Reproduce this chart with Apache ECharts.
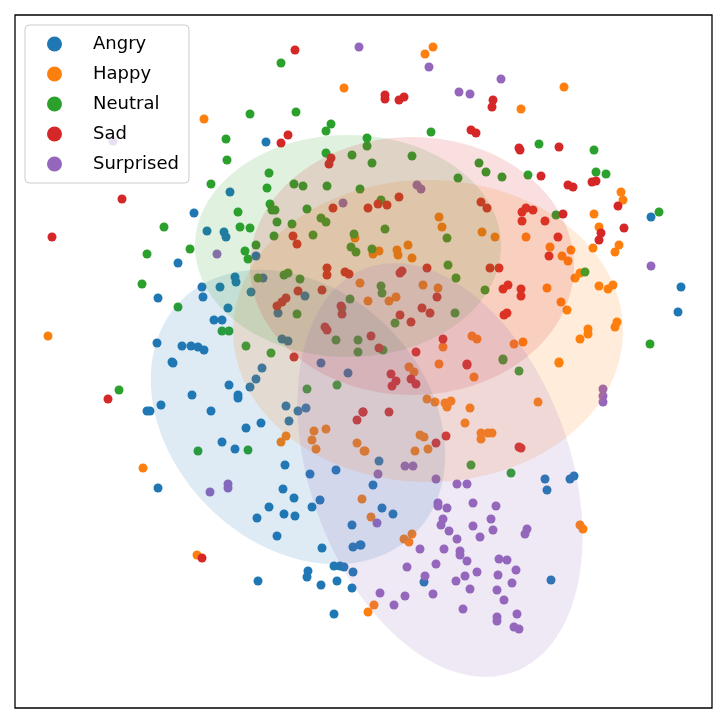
<!DOCTYPE html>
<html><head><meta charset="utf-8">
<script src="https://cdn.jsdelivr.net/npm/echarts@6/dist/echarts.min.js"></script>
<style>html,body{margin:0;padding:0;background:#fff}#c{width:728px;height:723px}</style>
</head><body><div id="c"></div>
<script>
const categories = ['Angry','Happy','Neutral','Sad','Surprised'];
const colors = ['#1f77b4','#ff7f0e','#2ca02c','#d62728','#9467bd'];

const angry = [[266,142],[230,192],[194,213],[207,231],[224,232],[226,237],[178,263],[256,256],[235,277],[236,282],[202,287],[203,297],[220,287],[251,292],[263,278],[158,298],[228,308],[278,313],[305,296],[214,320],[222,320],[157,343],[182,346],[191,346],[198,347],[204,350],[282,339],[288,341],[172,362],
[651,217],[681,287],[678,312],
[173,363],[262,368],[256,379],[250,387],[229,385],[238,395],[238,398],[192,395],[161,405],[147,411],[150,411],[211,411],[286,406],[298,411],[306,408],[289,421],[261,423],[246,428],[222,442],[235,449],[285,465],[310,474],[336,470],[158,488],[283,489],[294,498],[320,500],[312,507],[269,507],[257,518],[284,514],[295,516],[277,536],[352,525],[322,548],[353,547],[360,545],[334,566],[340,566],[344,567],[353,572],[308,571],[307,577],[258,581],[321,585],[337,581],[352,588],[334,614],[321,363],[348,373],
[379,461],[373,485],[382,508],[393,514],[361,545],[545,479],[547,490],[570,479],[574,476],[424,582],[551,580]];

const happy = [[344,88],[204,119],[48,336],[355,238],[360,283],
[425,54],[433,47],[564,87],[521,109],[621,192],[623,200],[594,214],[599,227],[619,245],[615,252],[593,248],[526,237],[550,247],[562,256],[568,261],[571,250],[575,278],[580,273],[599,286],[608,289],[613,285],[547,288],[561,302],[567,310],[617,322],[615,327],[588,329],[588,334],[580,339],[523,342],[514,344],[559,362],[439,217],[442,227],[482,232],[495,237],[408,245],[397,250],[398,255],[412,258],[373,254],[379,251],[423,285],[438,288],[368,301],[389,301],[396,297],[472,336],[477,339],[443,347],
[143,468],[197,555],[281,442],[286,436],[314,431],[326,429],[312,440],[316,449],[357,443],[364,451],[362,499],
[409,367],[414,372],[439,364],[474,377],[559,363],[427,399],[435,402],[445,403],[447,407],[451,401],[470,408],[538,402],[465,423],[420,435],[424,437],[481,433],[481,439],[488,433],[492,433],[415,451],[428,449],[365,451],[371,517],[404,539],[412,534],[409,542],[374,605],[368,612],[580,525],[583,529]];

const neutral = [[281,63],[250,114],[296,112],[331,124],[326,131],[226,139],[227,160],[326,153],[352,155],[269,173],[211,184],[267,188],[294,184],[303,186],[327,186],[360,189],[270,204],[272,210],[275,210],[238,212],[307,209],[277,222],[292,224],[321,218],[326,222],[240,227],[250,228],[164,227],[274,236],[313,235],[354,234],[190,249],[147,254],[256,245],[245,251],[248,259],[351,247],[356,252],[142,284],[284,275],[288,273],[300,279],[258,278],[178,307],[297,314],[350,299],[222,331],[229,331],[246,346],[271,353],[336,340],[358,340],[358,352],[342,308],
[367,138],[367,146],[431,132],[372,163],[412,156],[479,163],[486,172],[458,178],[502,177],[528,175],[539,144],[594,150],[596,172],[606,174],[381,200],[556,215],[385,229],[447,238],[372,249],[448,265],[456,278],[381,286],[382,293],[485,290],[455,313],[395,323],[585,272],[650,344],[659,212],[383,350],[503,359],
[119,390],[198,451],[248,450],[307,389],[337,385],[503,360],[519,371],[471,465],[511,473]];

const sad = [[295,50],[288,135],[281,143],[122,199],[52,237],[331,158],[329,164],[333,208],[293,236],[297,244],[327,268],[327,275],[345,272],[349,274],[298,291],[322,290],[277,306],[282,302],[286,298],[341,306],[342,314],[325,327],[327,330],[294,357],
[385,95],[385,99],[399,100],[404,97],[493,100],[492,107],[471,130],[476,133],[519,148],[520,150],[559,147],[541,176],[568,185],[573,187],[592,182],[596,181],[618,206],[624,228],[601,233],[599,240],[399,197],[378,204],[387,205],[368,208],[481,202],[487,208],[522,212],[526,208],[533,210],[522,221],[545,221],[563,214],[558,237],[549,256],[400,273],[402,271],[427,268],[490,268],[499,268],[503,289],[508,285],[521,289],[521,296],[437,297],[422,308],[430,313],[400,315],[411,322],[504,315],[507,313],[371,336],[443,339],[379,348],[416,352],[467,364],
[108,399],[202,558],[357,420],[363,412],
[391,374],[396,381],[392,386],[411,379],[416,384],[467,365],[363,412],[389,412],[446,436],[436,443],[519,447],[521,448]];

const surprised = [[359,47],[343,203],[217,254],[113,141],
[429,67],[459,92],[470,94],[501,79],[417,185],[421,189],[651,266],
[210,492],[228,484],[228,488],
[603,389],[603,396],[603,402],[405,466],[413,466],[378,474],[436,479],[457,484],[467,484],[438,503],[438,506],[447,508],[473,503],[496,506],[377,523],[443,519],[441,525],[449,531],[473,526],[491,519],[493,530],[527,529],[525,534],[480,537],[457,539],[420,549],[444,549],[460,551],[460,555],[467,561],[499,559],[507,560],[436,564],[407,567],[477,572],[516,570],[425,576],[465,576],[498,575],[456,581],[512,583],[470,589],[497,590],[380,593],[405,596],[433,594],[504,600],[394,605],[463,609],[497,617],[497,621],[517,614],[514,627],[519,629]];

// ellipse parameters: [cx, cy, semiA, semiB, angleDeg, categoryIndex]
const ellipses = [
  [298,417,165,127,45,0],
  [428,331,195,151,0,1],
  [348,246,153,111,0,2],
  [412,266,162,129,0,3],
  [440,470,215,130,70,4]
];

const pointSets = [angry, happy, neutral, sad, surprised];

const chart = echarts.init(document.getElementById('c'));
const series = pointSets.map((pts, i) => ({
  name: categories[i], type: 'scatter', data: pts, symbolSize: 9,
  itemStyle: {color: colors[i], opacity: 1}, z: 2, silent: true
}));
series.push({
  type: 'custom', name: 'ellipses', data: ellipses, z: 3, silent: true,
  encode: {x: 0, y: 1},
  renderItem: function (params, api) {
    const cx = api.value(0), cy = api.value(1), a = api.value(2), b = api.value(3);
    const th = api.value(4) * Math.PI / 180, k = api.value(5);
    const pts = [];
    for (let i = 0; i < 120; i++) {
      const t = i / 120 * Math.PI * 2;
      const x = cx + a * Math.cos(t) * Math.cos(th) - b * Math.sin(t) * Math.sin(th);
      const y = cy + a * Math.cos(t) * Math.sin(th) + b * Math.sin(t) * Math.cos(th);
      pts.push(api.coord([x, y]));
    }
    return {type: 'polygon', shape: {points: pts}, style: {fill: colors[k], opacity: 0.15}};
  }
});

chart.setOption({
  animation: false,
  grid: {left: 15, top: 15, width: 697, height: 693, show: true, borderColor: '#000', borderWidth: 1.3, backgroundColor: 'transparent'},
  xAxis: {type: 'value', min: 15, max: 712, show: false},
  yAxis: {type: 'value', min: 15, max: 708, inverse: true, show: false},
  legend: {
    data: categories, orient: 'vertical', left: 25, top: 25,
    icon: 'circle', itemWidth: 15, itemHeight: 15, itemGap: 12,
    padding: [10, 10, 10, 22],
    textStyle: {fontFamily: 'DejaVu Sans', fontSize: 18, color: '#000', padding: [0, 0, 0, 26]},
    backgroundColor: 'rgba(255,255,255,0.8)', borderColor: '#ccc', borderWidth: 1, borderRadius: 4
  },
  series: series
});
</script></body></html>
